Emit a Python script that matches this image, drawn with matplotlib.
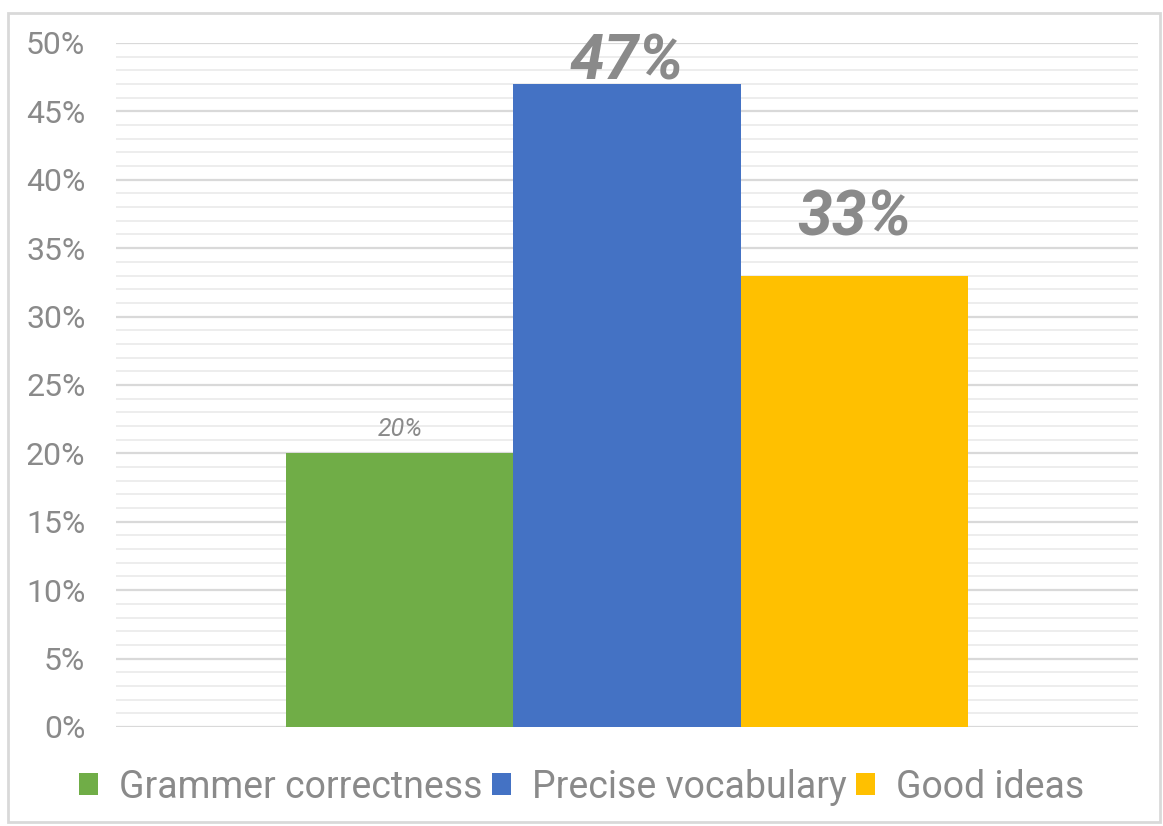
import matplotlib
matplotlib.use("Agg")
import matplotlib.pyplot as plt
from matplotlib.patches import Rectangle
from matplotlib.ticker import MultipleLocator, FuncFormatter

plt.rcParams["font.family"] = ["Roboto", "DejaVu Sans"]

series = ["Grammer correctness", "Precise vocabulary", "Good ideas"]
shares = [20, 47, 33]
colors = ["#70AD47", "#4472C4", "#FFC000"]
label_sizes = [18, 45, 45]
label_weights = ["normal", "bold", "bold"]
label_offsets = [1.8, 1.6, 4.2]

text_gray = "#8a8a8a"

fig = plt.figure(figsize=(11.63, 8.26), dpi=100)
ax = fig.add_axes([0.0997, 0.1199, 0.8788, 0.8281])

# outer frame around the chart
fig.patches.append(Rectangle((8 / 1163, 4 / 826), 1152 / 1163, 809 / 826,
                             transform=fig.transFigure, fill=False,
                             edgecolor="#d9d9d9", linewidth=2))

handles = []
for i, (name, val, col) in enumerate(zip(series, shares, colors)):
    b = ax.bar(i - 1, val, width=1.0, color=col, label=name, zorder=3)
    handles.append(b)
    ax.text(i - 1, val + label_offsets[i], f"{val}%", ha="center", va="center",
            fontsize=label_sizes[i], fontweight=label_weights[i],
            fontstyle="italic", color=text_gray, zorder=4, clip_on=False)

ax.set_xlim(-2.25, 2.25)
ax.set_ylim(0, 50)
ax.yaxis.set_major_locator(MultipleLocator(5))
ax.yaxis.set_minor_locator(MultipleLocator(1))
ax.yaxis.set_major_formatter(FuncFormatter(lambda v, p: f"{v:.0f}%"))
ax.grid(axis="y", which="major", color="#d9d9d9", linewidth=1.6, zorder=0)
ax.grid(axis="y", which="minor", color="#ededed", linewidth=1.4, zorder=0)
ax.set_xticks([])
ax.tick_params(axis="y", which="both", length=0, labelsize=23,
               labelcolor=text_gray, pad=22)
for s in ax.spines.values():
    s.set_visible(False)

leg = fig.legend(handles=handles, loc="center", bbox_to_anchor=(0.5, 1 - 787 / 826),
                 ncol=3, frameon=False, fontsize=27, labelcolor=text_gray,
                 handlelength=0.52, handleheight=0.52, handletextpad=0.55,
                 columnspacing=0.25)

fig.savefig("out.png", dpi=100)
